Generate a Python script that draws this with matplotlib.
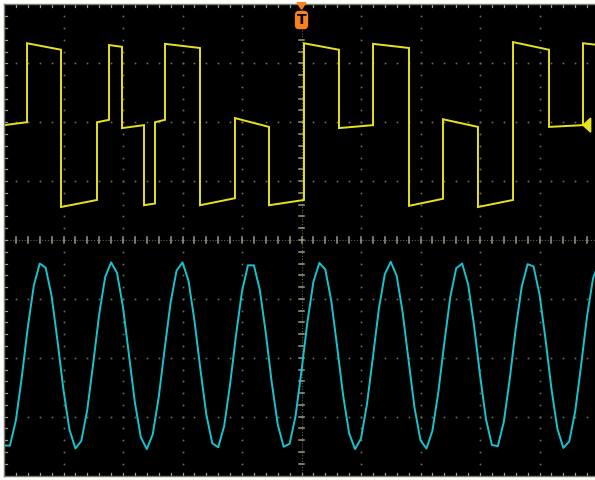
import numpy as np
import matplotlib
matplotlib.use("Agg")
import matplotlib.pyplot as plt
from matplotlib.patches import Polygon, FancyBboxPatch

# screen is 10 x 8 divisions, time and volts both in divisions
# channel 1 (yellow): edge times and start/end level of every flat piece
ch1_edges = [0.0, 0.387, 0.958, 1.563, 1.765, 1.983, 2.353, 2.538, 2.706, 3.294,
             3.882, 4.454, 5.042, 5.630, 6.202, 6.807, 7.378, 7.966, 8.555,
             9.160, 9.731, 10.0]
ch1_start = [1.95, 3.34, 0.56, 2.00, 3.31, 1.90, 0.59, 2.00, 3.33, 0.59, 2.07,
             0.59, 3.34, 1.90, 3.33, 0.58, 2.05, 0.56, 3.36, 1.92, 3.34]
ch1_end = [2.00, 3.23, 0.68, 2.04, 3.28, 1.95, 0.62, 2.04, 3.26, 0.71, 1.92,
           0.68, 3.23, 1.95, 3.26, 0.70, 1.92, 0.68, 3.23, 1.95, 3.31]

# channel 2 (cyan): samples read every 0.1 div
ch2_dt = 0.1
ch2_vals = [-3.49, -3.49, -3.06, -2.32, -1.48, -0.78, -0.40, -0.47, -0.95, -1.72,
            -2.55, -3.22, -3.54, -3.41, -2.88, -2.09, -1.26, -0.63, -0.38, -0.56,
            -1.14, -1.95, -2.76, -3.35, -3.55, -3.30, -2.67, -1.85, -1.06, -0.52,
            -0.38, -0.69, -1.36, -2.19, -2.96, -3.45, -3.52, -3.16, -2.45, -1.61,
            -0.87, -0.43, -0.43, -0.85, -1.58, -2.42, -3.13, -3.51, -3.46, -2.99,
            -2.22, -1.39, -0.71, -0.39, -0.50, -1.03, -1.82, -2.64, -3.28, -3.55,
            -3.37, -2.79, -1.99, -1.17, -0.58, -0.37, -0.61, -1.23, -2.05, -2.85,
            -3.40, -3.54, -3.24, -2.58, -1.75, -0.97, -0.48, -0.40, -0.75, -1.45,
            -2.29, -3.04, -3.48, -3.50, -3.09, -2.36, -1.51, -0.80, -0.41, -0.45,
            -0.92, -1.68, -2.52, -3.20, -3.53, -3.42, -2.91, -2.12, -1.29, -0.65,
            -0.38]

trig_pos = 5.0
ch1_level = 1.95

YELLOW = "#e6e21e"
CYAN = "#17c3cf"
ORANGE = "#f5821f"
GRID = "#6f6f5e"
TICK = "#9c9c88"

fig = plt.figure(figsize=(5.95, 4.8), dpi=100, facecolor="white")
ax = fig.add_axes([4 / 595, 4.4 / 480, 1.0, 471.2 / 480])
ax.set_facecolor("black")
ax.set_xlim(0, 10)
ax.set_ylim(-4, 4)
ax.set_xticks([])
ax.set_yticks([])
for s in ax.spines.values():
    s.set_color("#7c7c6c")
    s.set_linewidth(1.0)

# graticule dots
fine_x = np.arange(0.2, 10, 0.2)
fine_y = np.arange(-3.8, 4, 0.2)
for gx in range(1, 10):
    if gx == 5:
        continue
    ax.plot([gx] * len(fine_y), fine_y, ls="none", marker="s", ms=1.2, mew=0, color=GRID)
for gy in range(-3, 4):
    if gy == 0:
        continue
    ax.plot(fine_x, [gy] * len(fine_x), ls="none", marker="s", ms=1.2, mew=0, color=GRID)

# centre cross with ticks
ax.axhline(0, color="#5e5e50", lw=0.8, ls=(0, (1, 1.6)))
ax.axvline(5, color="#5e5e50", lw=0.8, ls=(0, (1, 1.6)))
for tx in fine_x:
    ax.plot([tx, tx], [-0.05, 0.05], color=TICK, lw=1.1)
for ty in fine_y:
    ax.plot([4.95, 5.05], [ty, ty], color=TICK, lw=1.1)

# ticks along the border
for tx in fine_x:
    ax.plot([tx, tx], [-4, -3.95], color=TICK, lw=0.9)
    ax.plot([tx, tx], [4, 3.95], color=TICK, lw=0.9)
for ty in fine_y:
    ax.plot([0, 0.05], [ty, ty], color=TICK, lw=0.9)

# channel 1 trace
xs, ys = [], []
for i in range(len(ch1_start)):
    xs += [ch1_edges[i], ch1_edges[i + 1]]
    ys += [ch1_start[i], ch1_end[i]]
ax.plot(xs, ys, color=YELLOW, lw=1.4, solid_joinstyle="miter")

# channel 2 trace
t2 = np.arange(len(ch2_vals)) * ch2_dt
ax.plot(t2, ch2_vals, color=CYAN, lw=1.4)

# trigger level marker on the right
ax.add_patch(Polygon([[9.73, ch1_level], [9.86, ch1_level + 0.12], [9.86, ch1_level - 0.12]],
                     closed=True, color=YELLOW, zorder=5))

# trigger position marker at top
ax.add_patch(Polygon([[trig_pos - 0.075, 4.03], [trig_pos + 0.075, 4.03], [trig_pos, 3.92]],
                     closed=True, color=ORANGE, clip_on=False, zorder=6))
ax.add_patch(FancyBboxPatch((trig_pos - 0.09, 3.6), 0.18, 0.27,
                            boxstyle="round,pad=0.01,rounding_size=0.06",
                            color=ORANGE, clip_on=False, zorder=6))
ax.text(trig_pos, 3.735, "T", color="black", fontsize=10, fontweight="bold",
        ha="center", va="center", zorder=7)

fig.savefig("out.png", dpi=100, facecolor="white")
